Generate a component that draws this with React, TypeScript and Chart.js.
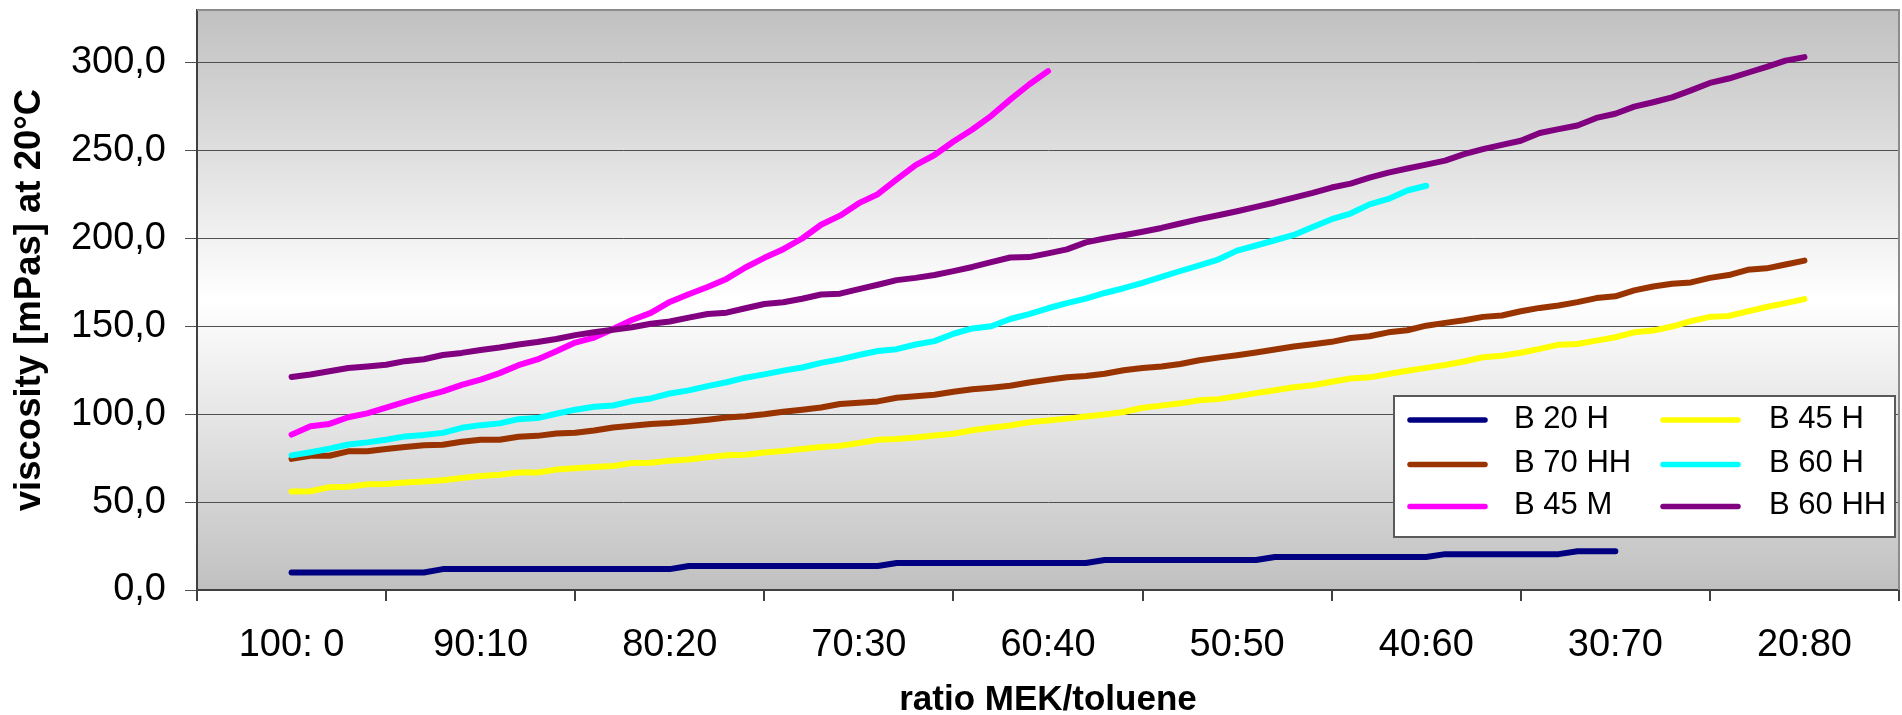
import React, { useEffect, useRef } from 'react';
import { Chart, registerables } from 'chart.js';

Chart.register(...registerables);

// ---- data ----
// x axis: MEK/toluene ratio labels (one label every 10 % toluene)
const ratioLabels = ['100: 0', '90:10', '80:20', '70:30', '60:40', '50:50', '40:60', '30:70', '20:80'];
// measured points are at 1 % toluene steps, starting at 100:0
const pctPerLabel = 10;

const seriesNames = ['B 20 H', 'B 45 H', 'B 70 HH', 'B 60 H', 'B 45 M', 'B 60 HH'];
const seriesColors = ['#000080', '#FFFF00', '#993300', '#00FFFF', '#FF00FF', '#800080'];

const b20h = [
  10, 10, 10, 10, 10, 10, 10, 10,
  11.9, 11.9, 11.9, 11.9, 11.9, 11.9, 11.9, 11.9, 11.9, 11.9, 11.9, 11.9, 11.9,
  13.7, 13.7, 13.7, 13.7, 13.7, 13.7, 13.7, 13.7, 13.7, 13.7, 13.7,
  15.4, 15.4, 15.4, 15.4, 15.4, 15.4, 15.4, 15.4, 15.4, 15.4, 15.4,
  17.1, 17.1, 17.1, 17.1, 17.1, 17.1, 17.1, 17.1, 17.1,
  18.8, 18.8, 18.8, 18.8, 18.8, 18.8, 18.8, 18.8, 18.8,
  20.4, 20.4, 20.4, 20.4, 20.4, 20.4, 20.4,
  22, 22, 22,
];

const b45h = [
  56.1, 56.2, 58.5, 58.8, 60.1, 60.3, 61.1, 61.8, 62.4, 63.7,
  64.8, 65.6, 66.8, 66.9, 68.5, 69.3, 70, 70.5, 72.3, 72.4,
  73.6, 74.2, 75.5, 76.7, 77, 78.2, 79.1, 80.2, 81.3, 82,
  83.6, 85.5, 85.9, 86.8, 87.9, 88.9, 90.9, 92.3, 93.6, 95.4,
  96.5, 97.5, 98.7, 99.9, 101.3, 103.7, 104.9, 106.2, 108, 108.6,
  110.2, 112, 113.7, 115.4, 116.5, 118.5, 120.3, 121, 122.9, 124.7,
  126.4, 128, 130, 132.4, 133.3, 135, 137.2, 139.6, 140, 141.9,
  143.8, 146.6, 147.6, 149.9, 153, 155.4, 155.9, 158.5, 161, 163.2,
  165.5,
];

const b70hh = [
  74.6, 76.4, 76.4, 78.9, 78.9, 80.2, 81.3, 82.3, 82.6, 84.3,
  85.5, 85.5, 87.2, 87.7, 89, 89.5, 90.8, 92.5, 93.4, 94.5,
  95, 95.8, 96.9, 98.1, 98.9, 100, 101.4, 102.6, 103.8, 105.8,
  106.5, 107.3, 109.4, 110.2, 111.1, 112.8, 114.2, 115.1, 116.2, 118.1,
  119.6, 121.1, 121.7, 123, 125, 126.3, 127.2, 128.6, 130.7, 132.2,
  133.6, 135.1, 136.8, 138.5, 139.8, 141.2, 143.4, 144.4, 146.6, 147.8,
  150.4, 152, 153.5, 155.4, 156.2, 158.6, 160.5, 161.9, 163.8, 166.1,
  167.1, 170.5, 172.7, 174.2, 175, 177.6, 179.2, 182.2, 183, 185.2,
  187.4,
];

const b60h = [
  76.6, 78.4, 80.4, 82.8, 84, 85.5, 87.4, 88.2, 89.4, 92.3,
  93.8, 94.8, 97.2, 97.8, 100.3, 102.6, 104.3, 105, 107.5, 109,
  111.8, 113.6, 116, 118.2, 120.8, 122.7, 124.8, 126.6, 129.2, 131.2,
  133.7, 136, 137, 139.7, 141.6, 145.8, 148.8, 150.1, 154.2, 157,
  160.3, 163.2, 165.8, 169, 171.7, 174.7, 178.2, 181.5, 184.7, 188,
  193.1, 196, 199, 202, 206.5, 211, 214.2, 219.4, 222.5, 227.3,
  230,
];

const b45m = [
  88.4, 93.2, 94.5, 98.3, 100.5, 103.8, 107, 110.2, 113, 116.7,
  119.7, 123.4, 127.9, 131.2, 135.8, 140.8, 143.6, 148.5, 153.6, 157.7,
  163.9, 168.3, 172.4, 177, 183.5, 189, 193.9, 200, 207.8, 213,
  220.1, 225.2, 233.6, 241.7, 247.5, 255.2, 262, 269.8, 279, 287.6,
  295.2,
];

const b60hh = [
  121.2, 122.6, 124.5, 126.3, 127.2, 128.2, 130.2, 131.3, 133.7, 134.9,
  136.6, 138, 139.7, 141.1, 142.8, 145, 146.6, 148.1, 149.5, 151.5,
  152.8, 155, 157, 157.8, 160.3, 162.7, 163.7, 165.7, 168.1, 168.6,
  171.2, 173.7, 176.3, 177.6, 179.2, 181.4, 183.8, 186.5, 189.2, 189.4,
  191.5, 193.8, 197.8, 200, 201.8, 203.8, 206, 208.5, 211, 213.2,
  215.5, 218, 220.5, 223.3, 226, 229, 231.2, 234.6, 237.5, 239.8,
  242, 244.3, 248, 250.8, 253.3, 255.6, 260, 262.2, 264.3, 268.6,
  271, 275, 277.5, 280.3, 284.3, 288.5, 291, 294.3, 297.6, 301.2,
  303.2,
];

const seriesValues = [b20h, b45h, b70hh, b60h, b45m, b60hh];

const yMin = 0;
const yMax = 330;
const yStep = 50;

const FONT = "'Liberation Sans', Arial, Helvetica, sans-serif";

const plotBackground = {
  id: 'plotBackground',
  beforeDraw(chart: any) {
    const { ctx, chartArea: a } = chart;
    const g = ctx.createLinearGradient(0, a.top, 0, a.bottom);
    g.addColorStop(0, '#c0c0c0');
    g.addColorStop(0.5, '#ffffff');
    g.addColorStop(1, '#c0c0c0');
    ctx.save();
    ctx.fillStyle = g;
    ctx.fillRect(a.left, a.top, a.right - a.left, a.bottom - a.top);
    ctx.restore();
  },
  afterDraw(chart: any) {
    const { ctx, chartArea: a } = chart;
    ctx.save();
    ctx.strokeStyle = '#8c8c8c';
    ctx.lineWidth = 2;
    ctx.beginPath();
    ctx.moveTo(a.left, a.top);
    ctx.lineTo(a.right, a.top);
    ctx.lineTo(a.right, a.bottom);
    ctx.stroke();
    ctx.restore();
  },
};

const boxLegend = {
  id: 'boxLegend',
  afterDraw(chart: any) {
    const { ctx } = chart;
    const bx = 1394, by = 396, bw = 501, bh = 141;
    const lineX = [1410, 1663];
    const lineLen = 75;
    const textX = [1514, 1769];
    const rowY = [420, 464.5, 506.5];
    ctx.save();
    ctx.fillStyle = '#ffffff';
    ctx.fillRect(bx, by, bw, bh);
    ctx.strokeStyle = '#5a5a5a';
    ctx.lineWidth = 2;
    ctx.strokeRect(bx, by, bw, bh);
    ctx.font = `31px ${FONT}`;
    ctx.textBaseline = 'middle';
    ctx.textAlign = 'left';
    chart.data.datasets.forEach((ds: any, k: number) => {
      const col = k % 2;
      const row = Math.floor(k / 2);
      const y = rowY[row];
      ctx.strokeStyle = ds.borderColor;
      ctx.lineWidth = 5.5;
      ctx.lineCap = 'round';
      ctx.beginPath();
      ctx.moveTo(lineX[col], y);
      ctx.lineTo(lineX[col] + lineLen, y);
      ctx.stroke();
      ctx.fillStyle = '#000';
      ctx.fillText(ds.label, textX[col], y - 1);
    });
    ctx.restore();
  },
};

export default function App() {
  const canvasRef = useRef<HTMLCanvasElement | null>(null);

  useEffect(() => {
    if (!canvasRef.current) return;
    const datasets = seriesValues.map((vals, k) => ({
      label: seriesNames[k],
      data: vals.map((v, i) => ({ x: i, y: v })),
      borderColor: seriesColors[k],
      backgroundColor: seriesColors[k],
      borderWidth: 6,
      borderCapStyle: 'round' as const,
      borderJoinStyle: 'round' as const,
      pointRadius: 0,
      tension: 0,
      fill: false,
      xAxisID: 'xData',
      yAxisID: 'y',
      order: -k,
    }));

    const chart = new Chart(canvasRef.current, {
      type: 'line',
      data: { labels: ratioLabels, datasets },
      plugins: [plotBackground, boxLegend],
      options: {
        animation: false,
        responsive: false,
        devicePixelRatio: 1,
        layout: { padding: { top: 10, right: 3, left: 0, bottom: 0 } },
        plugins: {
          legend: { display: false },
          tooltip: { enabled: false },
        },
        scales: {
          x: {
            type: 'category',
            position: 'bottom',
            offset: true,
            afterFit: (s: any) => {
              s.height = 125;
              s.paddingLeft = 0;
              s.paddingRight = 0;
            },
            grid: {
              offset: true,
              drawOnChartArea: false,
              drawTicks: true,
              tickLength: 11,
              color: '#404040',
              lineWidth: 2,
            },
            border: { display: true, color: '#404040', width: 2 },
            ticks: {
              color: '#000',
              font: { family: FONT, size: 38 },
              padding: 22,
              maxRotation: 0,
              autoSkip: false,
            },
            title: {
              display: true,
              text: 'ratio MEK/toluene',
              color: '#000',
              font: { family: FONT, size: 35, weight: 'bold', lineHeight: 0.85 },
              padding: { top: 0, bottom: 0 },
            },
          },
          xData: {
            type: 'linear',
            display: false,
            min: -pctPerLabel / 2,
            max: (ratioLabels.length - 1) * pctPerLabel + pctPerLabel / 2,
          },
          y: {
            type: 'linear',
            position: 'left',
            min: yMin,
            max: yMax,
            afterFit: (s: any) => {
              s.width = 197;
              s.paddingTop = 0;
              s.paddingBottom = 0;
            },
            grid: {
              color: '#505050',
              lineWidth: 1,
              drawTicks: true,
              tickLength: 12,
            },
            border: { display: true, color: '#404040', width: 2 },
            ticks: {
              stepSize: yStep,
              includeBounds: false,
              color: '#000',
              font: { family: FONT, size: 38 },
              padding: 19,
              callback: (v: any) => Number(v).toFixed(1).replace('.', ','),
            },
            title: {
              display: true,
              text: 'viscosity [mPas] at 20°C',
              color: '#000',
              font: { family: FONT, size: 36.5, weight: 'bold', lineHeight: 1 },
              padding: { top: 12, bottom: 0 },
            },
          },
        },
      },
    } as any);

    return () => chart.destroy();
  }, []);

  return (
    <div style={{ position: 'absolute', left: 0, top: 0, width: 1902, height: 715, background: '#fff' }}>
      <canvas ref={canvasRef} width={1902} height={715} style={{ display: 'block' }} />
    </div>
  );
}
